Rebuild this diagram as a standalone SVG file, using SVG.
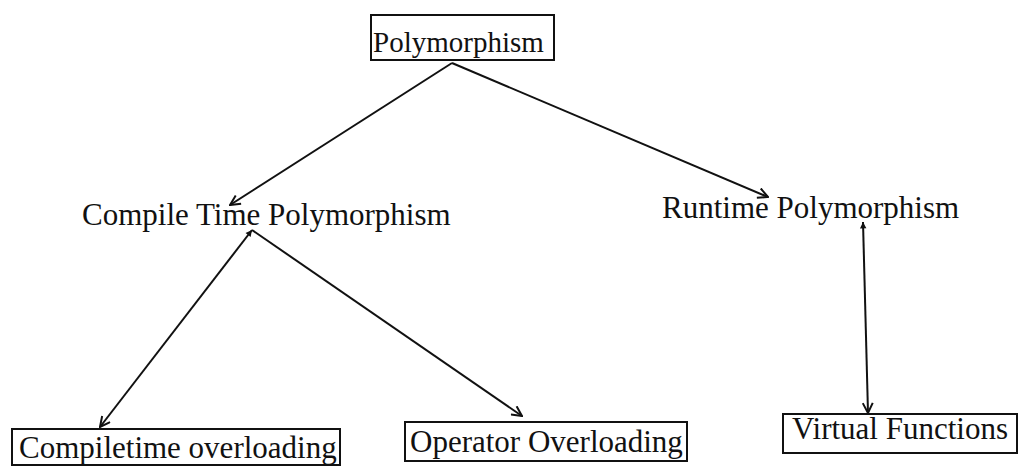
<svg xmlns="http://www.w3.org/2000/svg" width="1019" height="467" viewBox="0 0 1019 467">
  <style>
    .lbl { font-family: "Liberation Serif", "Times New Roman", serif; font-size: 31px; fill: #111; }
    .box { fill: #fff; stroke: #111; stroke-width: 2; }
    .edge { fill: none; stroke: #111; stroke-width: 2; }
  </style>
  <defs>
    <marker id="head" viewBox="0 0 12 12" refX="11" refY="6" markerWidth="12" markerHeight="12" markerUnits="userSpaceOnUse" orient="auto">
      <path d="M1,1 L11,6 L1,11" fill="none" stroke="#111" stroke-width="2"/>
    </marker>
    <marker id="tail" viewBox="0 0 10 10" refX="9" refY="5" markerWidth="8" markerHeight="8" markerUnits="userSpaceOnUse" orient="auto-start-reverse">
      <path d="M1,1 L9,5 L1,9 Z" fill="#111"/>
    </marker>
  </defs>

  <rect width="1019" height="467" fill="#fff"/>

  <!-- connectors -->
  <g id="connectors">
    <line class="edge" x1="452" y1="63" x2="230" y2="205" marker-end="url(#head)"/>
    <line class="edge" x1="452" y1="63" x2="768" y2="197" marker-end="url(#head)"/>
    <line class="edge" x1="252" y1="230" x2="100" y2="427" marker-start="url(#tail)" marker-end="url(#head)"/>
    <line class="edge" x1="252" y1="230" x2="522" y2="416" marker-end="url(#head)"/>
    <line class="edge" x1="863" y1="222" x2="868" y2="413" marker-start="url(#tail)" marker-end="url(#head)"/>
  </g>

  <!-- root -->
  <g id="polymorphism">
    <rect class="box" x="371" y="15" width="183" height="45"/>
    <text class="lbl" x="373" y="52" style="font-size:29px">Polymorphism</text>
  </g>

  <g id="compile-time">
    <text class="lbl" x="82" y="225">Compile Time Polymorphism</text>
  </g>

  <g id="runtime">
    <text class="lbl" x="662" y="218">Runtime Polymorphism</text>
  </g>

  <g id="compiletime-overloading">
    <rect class="box" x="12" y="429" width="328" height="36"/>
    <text class="lbl" x="19" y="458">Compiletime overloading</text>
  </g>

  <g id="operator-overloading">
    <rect class="box" x="405" y="422" width="282" height="39"/>
    <text class="lbl" x="410" y="452">Operator Overloading</text>
  </g>

  <g id="virtual-functions">
    <rect class="box" x="783" y="414" width="234" height="39"/>
    <text class="lbl" x="792" y="439">Virtual Functions</text>
  </g>
</svg>
